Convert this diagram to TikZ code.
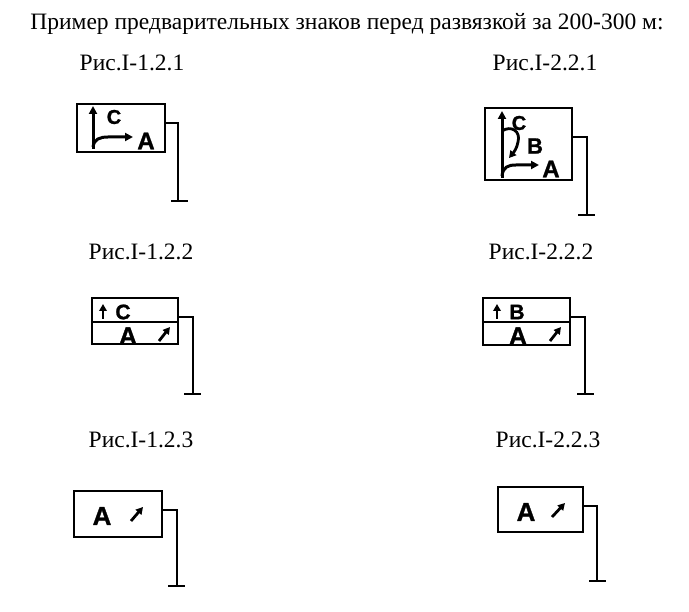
\documentclass[tikz,border=0pt]{standalone}
\usepackage{fontspec}
\setmainfont{Liberation Serif}
\newfontfamily\signfont{Liberation Sans Bold}[FakeBold=1.2]
\usetikzlibrary{arrows.meta}

\tikzset{
	signbox/.style={draw, line width=2.2pt, inner sep=0pt},
	post/.style={line width=2.2pt},
	lbl/.style={font=\fontsize{23.5}{28}\selectfont, anchor=base},
	let/.style={font=\signfont\fontsize{#1}{#1}\selectfont, inner sep=0pt},
	dir/.style={line width=3pt, -{Triangle[length=8pt, width=8pt]}},
	dirs/.style={line width=2.8pt, -{Triangle[length=7pt, width=7.5pt]}}
}

\begin{document}
\begin{tikzpicture}[x=1pt, y=-1pt]
	\useasboundingbox (0,0) rectangle (689,612);

	\node[lbl] (title) at (347,30) {Пример предварительных знаков перед развязкой за 200-300 м:};

	% labels
	\node[lbl] (l11) at (132,71) {Рис.I-1.2.1};
	\node[lbl] (l21) at (545,71) {Рис.I-2.2.1};
	\node[lbl] (l12) at (141,260) {Рис.I-1.2.2};
	\node[lbl] (l22) at (541,260) {Рис.I-2.2.2};
	\node[lbl] (l13) at (141,448) {Рис.I-1.2.3};
	\node[lbl] (l23) at (548,448) {Рис.I-2.2.3};

	% sign 1.2.1
	\node[signbox, minimum width=88pt, minimum height=48pt] (s11) at (121,128) {};
	\draw[dir] (93,149) -- (93,106);
	\draw[dir] (93,147) .. controls (94,139) and (100,137) .. (108,137) -- (133,137);
	\node[let=20] (s11c) at (114,117) {C};
	\node[let=24] (s11a) at (146,141) {A};
	\draw[post] (s11.east |- 0,123) -- (178,123) -- (178,201);
	\draw[post] (171,201) -- (188,201);

	% sign 2.2.1
	\node[signbox, minimum width=87pt, minimum height=72pt] (s21) at (528.5,144) {};
	\draw[dir] (502,178) -- (502,111);
	\draw[dir] (502,176) .. controls (503,167) and (508,165) .. (516,165) -- (539,165);
	\draw[dirs] (502,131) .. controls (511,125) and (521,131) .. (518,142) .. controls (517,148) and (514,152) .. (509,158);
	\node[let=20] (s21c) at (519,123) {C};
	\node[let=22] (s21b) at (535,146) {B};
	\node[let=24] (s21a) at (551,169) {A};
	\draw[post] (s21.east |- 0,137) -- (587,137) -- (587,215);
	\draw[post] (578,215) -- (595,215);

	% sign 1.2.2
	\node[signbox, minimum width=86pt, minimum height=46pt] (s12) at (135,321) {};
	\draw[line width=1.6pt] (s12.west |- 0,322) -- (s12.east |- 0,322);
	\draw[dirs] (103,319) -- (103,304);
	\node[let=21] (s12c) at (123,312) {C};
	\node[let=25] (s12a) at (128,336) {A};
	\draw[dirs] (159,341) -- (170,327);
	\draw[post] (s12.east |- 0,317) -- (193,317) -- (193,394);
	\draw[post] (184,394) -- (201,394);

	% sign 2.2.2
	\node[signbox, minimum width=87pt, minimum height=47pt] (s22) at (526.5,321.5) {};
	\draw[line width=1.6pt] (s22.west |- 0,322) -- (s22.east |- 0,322);
	\draw[dirs] (497,319) -- (497,304);
	\node[let=21] (s22b) at (517,312) {B};
	\node[let=25] (s22a) at (518,336) {A};
	\draw[dirs] (550,341) -- (561,327);
	\draw[post] (s22.east |- 0,317) -- (585,317) -- (585,394);
	\draw[post] (577,394) -- (594,394);

	% sign 1.2.3
	\node[signbox, minimum width=88pt, minimum height=46pt] (s13) at (118,514) {};
	\node[let=26] (s13a) at (102,516) {A};
	\draw[dirs] (131,521) -- (143,507);
	\draw[post] (s13.east |- 0,510) -- (177,510) -- (177,586);
	\draw[post] (168,586) -- (185,586);

	% sign 2.2.3
	\node[signbox, minimum width=85pt, minimum height=45pt] (s23) at (540.5,509.5) {};
	\node[let=26] (s23a) at (526,512) {A};
	\draw[dirs] (552,517) -- (565,503);
	\draw[post] (s23.east |- 0,506) -- (597,506) -- (597,581);
	\draw[post] (589,581) -- (606,581);
\end{tikzpicture}
\end{document}
